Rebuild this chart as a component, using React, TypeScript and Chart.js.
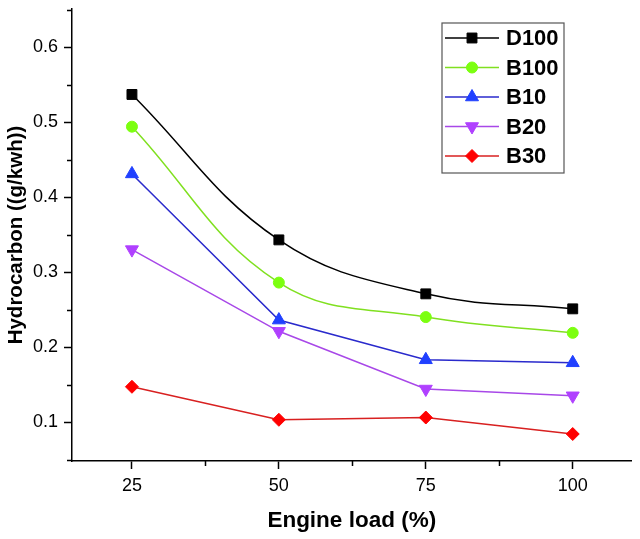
import { useEffect, useRef } from "react";
import Chart from "chart.js/auto";
import { drawPoint } from "chart.js/helpers";

// engine load (%)
const loads = [25, 50, 75, 100];

// hydrocarbon (g/kwh) per fuel
const d100 = [0.537, 0.343, 0.271, 0.251];
const b100 = [0.494, 0.286, 0.24, 0.219];
const b10 = [0.431, 0.236, 0.183, 0.179];
const b20 = [0.33, 0.221, 0.144, 0.135];
const b30 = [0.147, 0.103, 0.106, 0.084];

const yTicks = [0.1, 0.2, 0.3, 0.4, 0.5, 0.6];
const yMinorTicks = [0.05, 0.15, 0.25, 0.35, 0.45, 0.55, 0.65];
const xTicks = [25, 50, 75, 100];
const xMinorTicks = [37.5, 62.5, 87.5];

const series = [
  { label: "D100", data: d100, line: "#000000", fill: "#000000", style: "rect", radius: 7, rotation: 0, tension: 0.4 },
  { label: "B100", data: b100, line: "#80e020", fill: "#7cff10", style: "circle", radius: 5.5, rotation: 0, tension: 0.4 },
  { label: "B10", data: b10, line: "#2a2acc", fill: "#2040ff", style: "triangle", radius: 7.5, rotation: 0, tension: 0 },
  { label: "B20", data: b20, line: "#a848e8", fill: "#b040ff", style: "triangle", radius: 7.5, rotation: 180, tension: 0 },
  { label: "B30", data: b30, line: "#d82020", fill: "#ff0000", style: "rectRot", radius: 6.5, rotation: 0, tension: 0 }
];

// minor tick marks on both axes
const minorTicks = {
  id: "minorTicks",
  afterDraw(chart: any) {
    const { ctx, scales } = chart;
    const x = scales.x;
    const y = scales.y;
    ctx.save();
    ctx.strokeStyle = "#000";
    ctx.lineWidth = 1.5;
    ctx.beginPath();
    yMinorTicks.forEach(v => {
      if (v < y.min || v > y.max) return;
      const py = Math.round(y.getPixelForValue(v)) + 0.5;
      ctx.moveTo(x.left - 5, py);
      ctx.lineTo(x.left, py);
    });
    xMinorTicks.forEach(v => {
      const px = Math.round(x.getPixelForValue(v)) + 0.5;
      ctx.moveTo(px, y.bottom);
      ctx.lineTo(px, y.bottom + 5);
    });
    ctx.stroke();
    ctx.restore();
  }
};

// boxed legend in the upper right of the plot
const boxLegend = {
  id: "boxLegend",
  afterDraw(chart: any) {
    const { ctx } = chart;
    const left = 442;
    const top = 23;
    const width = 122;
    const rowH = 29.5;
    ctx.save();
    ctx.fillStyle = "#fff";
    ctx.fillRect(left, top, width, 150);
    ctx.strokeStyle = "#555";
    ctx.lineWidth = 1.2;
    ctx.strokeRect(left, top, width, 150);
    ctx.font = "bold 22px 'Liberation Sans', Arial, sans-serif";
    ctx.textBaseline = "middle";
    series.forEach((s, i) => {
      const cy = top + 15 + i * rowH;
      ctx.strokeStyle = s.line;
      ctx.lineWidth = 1.5;
      ctx.beginPath();
      ctx.moveTo(left + 3, cy);
      ctx.lineTo(left + 57, cy);
      ctx.stroke();
      ctx.fillStyle = s.fill;
      ctx.strokeStyle = s.fill;
      ctx.lineWidth = 1;
      drawPoint(ctx, { pointStyle: s.style as any, radius: s.radius, rotation: s.rotation, borderWidth: 1 }, left + 30, cy);
      ctx.fillStyle = "#000";
      ctx.fillText(s.label, left + 64, cy + 1);
    });
    ctx.restore();
  }
};

export default function App() {
  const canvasRef = useRef<HTMLCanvasElement>(null);
  const chartRef = useRef<Chart | null>(null);

  useEffect(() => {
    if (!canvasRef.current) return;
    if (chartRef.current) chartRef.current.destroy();

    const family = "'Liberation Sans', Arial, sans-serif";
    const tickFont = { family, size: 18 };

    chartRef.current = new Chart(canvasRef.current, {
      type: "line",
      data: {
        datasets: series.map(s => ({
          label: s.label,
          data: loads.map((x, i) => ({ x, y: s.data[i] })),
          borderColor: s.line,
          borderWidth: 1.5,
          backgroundColor: s.fill,
          pointBackgroundColor: s.fill,
          pointBorderColor: s.fill,
          pointBorderWidth: 1,
          pointStyle: s.style as any,
          pointRadius: s.radius,
          pointRotation: s.rotation,
          tension: s.tension,
          cubicInterpolationMode: "default" as const,
          fill: false
        }))
      },
      options: {
        animation: false,
        responsive: true,
        maintainAspectRatio: false,
        layout: { padding: { top: 9, right: 7, left: 0, bottom: 0 } },
        plugins: {
          legend: { display: false },
          tooltip: { enabled: false }
        },
        scales: {
          x: {
            type: "linear",
            min: 14.8,
            max: 110,
            afterBuildTicks: (scale: any) => {
              scale.ticks = xTicks.map(v => ({ value: v }));
            },
            afterFit: (scale: any) => {
              scale.height = 78;
            },
            border: { display: true, color: "#000", width: 1.5 },
            grid: { display: true, drawOnChartArea: false, drawTicks: true, tickLength: 8, tickWidth: 1.5, tickColor: "#000" },
            ticks: { color: "#000", font: tickFont, padding: 6, maxRotation: 0 },
            title: { display: true, text: "Engine load (%)", color: "#000", font: { family, size: 22.5, weight: "bold" }, padding: { top: 11, bottom: 5 } }
          },
          y: {
            type: "linear",
            min: 0.048,
            max: 0.651,
            afterBuildTicks: (scale: any) => {
              scale.ticks = yTicks.map(v => ({ value: v }));
            },
            afterFit: (scale: any) => {
              scale.width = 72;
              scale.paddingTop = 0;
              scale.paddingBottom = 0;
            },
            border: { display: true, color: "#000", width: 1.5 },
            grid: { display: true, drawOnChartArea: false, drawTicks: true, tickLength: 8, tickWidth: 1.5, tickColor: "#000" },
            ticks: { color: "#000", font: tickFont, padding: 6, callback: (v: any) => Number(v).toFixed(1) },
            title: { display: true, text: "Hydrocarbon ((g/kwh))", color: "#000", font: { family, size: 20.5, weight: "bold" }, padding: { top: 4, bottom: 0 } }
          }
        }
      },
      plugins: [minorTicks, boxLegend]
    });

    return () => {
      if (chartRef.current) {
        chartRef.current.destroy();
        chartRef.current = null;
      }
    };
  }, []);

  return (
    <div style={{ position: "absolute", left: 0, top: 0, width: 640, height: 539, background: "#fff" }}>
      <canvas ref={canvasRef} />
    </div>
  );
}
